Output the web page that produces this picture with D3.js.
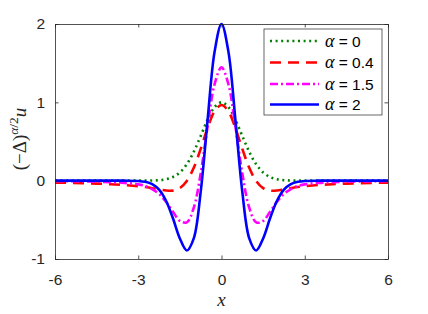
<!DOCTYPE html>
<html lang="en">
<head>
	<meta charset="UTF-8">
	<title>Fractional Laplacian of a Gaussian</title>
	<script src="https://d3js.org/d3.v7.min.js"></script>
	<style>
		body { margin: 0; background: #fff; }
		.tick text { font-family: "Liberation Sans", Arial, sans-serif; font-size: 15.5px; fill: #262626; }
		.tick line { stroke: #262626; }
		.domain { stroke: #262626; }
		.math { font-family: "Liberation Serif", "DejaVu Serif", serif; }
	</style>
</head>
<body>
<svg id="chart" width="428" height="314"></svg>
<script>
const width = 428, height = 314;

// sample points along x
const xs = [-6, -5.5, -5, -4.5, -4, -3.5, -3, -2.75, -2.5, -2.25, -2, -1.75, -1.5, -1.25, -1, -0.75, -0.5, -0.25,
	0, 0.25, 0.5, 0.75, 1, 1.25, 1.5, 1.75, 2, 2.25, 2.5, 2.75, 3, 3.5, 4, 4.5, 5, 5.5, 6];

const alpha0 = [0, 0, 0, 0, 0, 0, 0.0001, 0.0005, 0.0019, 0.0063, 0.0183, 0.0468, 0.1054, 0.2096, 0.3679, 0.5698, 0.7788, 0.9394,
	1, 0.9394, 0.7788, 0.5698, 0.3679, 0.2096, 0.1054, 0.0468, 0.0183, 0.0063, 0.0019, 0.0005, 0.0001, 0, 0, 0, 0, 0, 0];

const alpha04 = [-0.0245, -0.0279, -0.032, -0.0375, -0.0448, -0.0551, -0.0708, -0.0814, -0.096, -0.111, -0.1259, -0.1269, -0.0953, -0.0048, 0.1641, 0.4053, 0.672, 0.8847,
	0.9663, 0.8847, 0.672, 0.4053, 0.1641, -0.0048, -0.0953, -0.1269, -0.1259, -0.111, -0.096, -0.0814, -0.0708, -0.0551, -0.0448, -0.0375, -0.032, -0.0279, -0.0245];

const alpha15 = [-0.0064, -0.0081, -0.0104, -0.0139, -0.0194, -0.0288, -0.0476, -0.068, -0.1069, -0.17, -0.2684, -0.3968, -0.5136, -0.5316, -0.3456, 0.0928, 0.6947, 1.2304,
	1.446, 1.2304, 0.6947, 0.0928, -0.3456, -0.5316, -0.5136, -0.3968, -0.2684, -0.17, -0.1069, -0.068, -0.0476, -0.0288, -0.0194, -0.0139, -0.0104, -0.0081, -0.0064];

const alpha2 = [0, 0, 0, 0, 0, 0, -0.004, -0.015, -0.044, -0.115, -0.256, -0.48, -0.738, -0.891, -0.736, -0.142, 0.779, 1.644,
	2, 1.644, 0.779, -0.142, -0.736, -0.891, -0.738, -0.48, -0.256, -0.115, -0.044, -0.015, -0.004, 0, 0, 0, 0, 0, 0];

const labels = ["0", "0.4", "1.5", "2"];
const colors = ["#008000", "#ff0000", "#ff00ff", "#0000ff"];
const dashes = ["2,3.6", "11,7", "8,3,2,3", null];

const xTicks = [-6, -3, 0, 3, 6];
const yTicks = [-1, 0, 1, 2];

const series = [alpha0, alpha04, alpha15, alpha2];

const mLeft = 55, mRight = 388, mTop = 24, mBottom = 259;
const x = d3.scaleLinear().domain([-6, 6]).range([mLeft, mRight]);
const y = d3.scaleLinear().domain([-1, 2]).range([mBottom, mTop]);

const svg = d3.select("#chart");

// curves
const line = d3.line()
	.x((d, i) => x(xs[i]))
	.y(d => y(d))
	.curve(d3.curveCatmullRom);

series.forEach((s, k) => {
	svg.append("path")
		.attr("d", line(s))
		.attr("fill", "none")
		.attr("stroke", colors[k])
		.attr("stroke-width", 2.6)
		.attr("stroke-dasharray", dashes[k]);
});

// axes with inward ticks, box on
const tk = 3.5;
const fmt = d => String(d);   // plain hyphen minus like matlab
svg.append("g").attr("transform", `translate(0,${mBottom})`)
	.call(d3.axisBottom(x).tickValues(xTicks).tickFormat(fmt).tickSizeInner(-tk).tickSizeOuter(0).tickPadding(15));
svg.append("g").attr("transform", `translate(0,${mTop})`)
	.call(d3.axisTop(x).tickValues(xTicks).tickSizeInner(-tk).tickSizeOuter(0).tickFormat(""));
svg.append("g").attr("transform", `translate(${mLeft},0)`)
	.call(d3.axisLeft(y).tickValues(yTicks).tickFormat(fmt).tickSizeInner(-tk).tickSizeOuter(0).tickPadding(10));
svg.append("g").attr("transform", `translate(${mRight},0)`)
	.call(d3.axisRight(y).tickValues(yTicks).tickSizeInner(-tk).tickSizeOuter(0).tickFormat(""));
svg.selectAll(".domain").attr("stroke-width", 0.8);
svg.selectAll(".tick line").attr("stroke-width", 0.8);

// x label
svg.append("text")
	.attr("class", "math")
	.attr("x", x(0))
	.attr("y", 306)
	.attr("text-anchor", "middle")
	.attr("font-size", 19)
	.attr("font-style", "italic")
	.attr("fill", "#262626")
	.text("x");

// y label
const yl = svg.append("text")
	.attr("class", "math")
	.attr("transform", "translate(26,139) rotate(-90)")
	.attr("text-anchor", "middle")
	.attr("font-size", 19)
	.attr("fill", "#262626");
yl.append("tspan").text("(−Δ)");
yl.append("tspan").attr("font-size", 13.5).attr("font-style", "italic").attr("dy", -8).text("α");
yl.append("tspan").attr("font-size", 13.5).text("/2");
yl.append("tspan").attr("font-style", "italic").attr("dy", 8).text("u");

// legend
const lg = svg.append("g");
lg.append("rect")
	.attr("x", 264).attr("y", 29)
	.attr("width", 118).attr("height", 86)
	.attr("fill", "#fff")
	.attr("stroke", "#262626")
	.attr("stroke-width", 0.7);

const rowY = [41, 62.5, 84, 104.5];
labels.forEach((lab, k) => {
	lg.append("line")
		.attr("x1", 270).attr("x2", 319)
		.attr("y1", rowY[k]).attr("y2", rowY[k])
		.attr("stroke", colors[k])
		.attr("stroke-width", 2.6)
		.attr("stroke-dasharray", dashes[k]);
	const t = lg.append("text")
		.attr("x", 325).attr("y", rowY[k] + 5.5)
		.attr("font-size", 15.5)
		.attr("fill", "#000");
	t.append("tspan").attr("class", "math").attr("font-style", "italic").attr("font-size", 18).text("α");
	t.append("tspan").attr("font-family", "Liberation Sans, Arial, sans-serif").text(" = " + lab);
});
</script>
</body>
</html>
